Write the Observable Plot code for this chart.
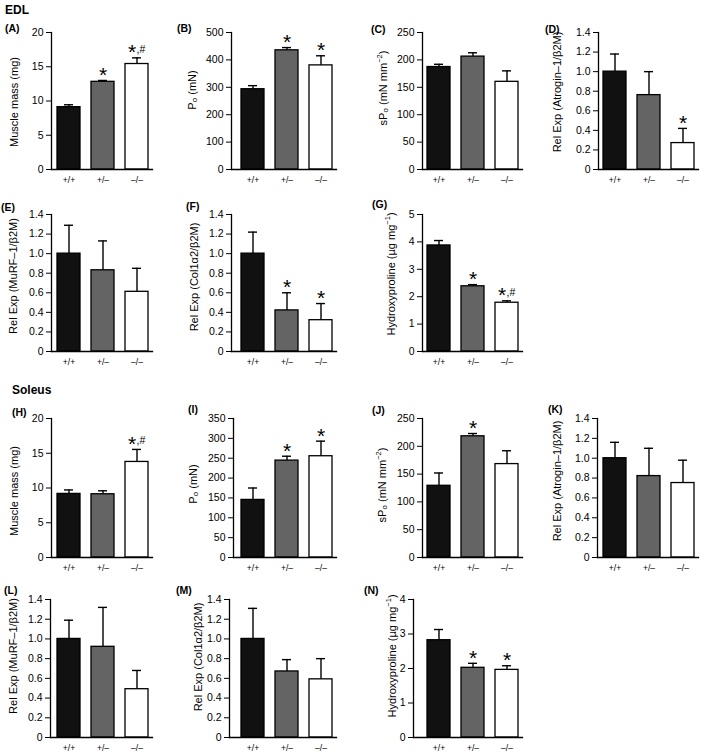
<!DOCTYPE html>
<html><head><meta charset="utf-8">
<script src="https://cdn.jsdelivr.net/npm/d3@7"></script>
<script src="https://cdn.jsdelivr.net/npm/@observablehq/plot@0.6"></script>
<style>
body{margin:0;background:#fff;}
#fig{position:relative;width:701px;height:754px;font-family:"Liberation Sans",Arial,sans-serif;color:#000;}
.let{position:absolute;font-weight:bold;font-size:10.5px;line-height:1;}
.sec{position:absolute;font-weight:bold;font-size:12px;line-height:1;}
</style></head><body><div id="fig"></div>
<script>
// ---- data ----
const genotypes = ["+/+", "+/–", "–/–"];
const barFills = ["#111111", "#646464", "#ffffff"];

// EDL
const edlMass = [9.1, 12.8, 15.4];
const edlMassSem = [0.35, 0.2, 0.9];
const edlMassSig = ["", "*", "*,#"];
const edlPo = [293, 435, 380];
const edlPoSem = [13, 10, 35];
const edlPoSig = ["", "*", "*"];
const edlSPo = [187, 206, 160];
const edlSPoSem = [5, 7, 20];
const edlSPoSig = ["", "", ""];
const edlAtrogin = [1.0, 0.76, 0.27];
const edlAtroginSem = [0.18, 0.24, 0.15];
const edlAtroginSig = ["", "", "*"];
const edlMurf = [1.0, 0.83, 0.61];
const edlMurfSem = [0.29, 0.30, 0.24];
const edlMurfSig = ["", "", ""];
const edlCol = [1.0, 0.42, 0.32];
const edlColSem = [0.22, 0.18, 0.17];
const edlColSig = ["", "*", "*"];
const edlHyp = [3.87, 2.38, 1.78];
const edlHypSem = [0.18, 0.06, 0.07];
const edlHypSig = ["", "*", "*,#"];

// Soleus
const solMass = [9.15, 9.1, 13.75];
const solMassSem = [0.57, 0.5, 1.8];
const solMassSig = ["", "", "*,#"];
const solPo = [145, 244, 255];
const solPoSem = [30, 11, 38];
const solPoSig = ["", "*", "*"];
const solSPo = [129, 218, 168];
const solSPoSem = [23, 5, 24];
const solSPoSig = ["", "*", ""];
const solAtrogin = [1.0, 0.82, 0.75];
const solAtroginSem = [0.16, 0.28, 0.23];
const solAtroginSig = ["", "", ""];
const solMurf = [1.0, 0.92, 0.49];
const solMurfSem = [0.19, 0.40, 0.19];
const solMurfSig = ["", "", ""];
const solCol = [1.0, 0.67, 0.59];
const solColSem = [0.31, 0.12, 0.21];
const solColSig = ["", "", ""];
const solHyp = [2.82, 2.02, 1.96];
const solHypSem = [0.31, 0.13, 0.12];
const solHypSig = ["", "*", "*"];

// tick sets
const ticksMass = [0, 5, 10, 15, 20];
const ticksPoEDL = [0, 100, 200, 300, 400, 500];
const ticksSPo = [0, 50, 100, 150, 200, 250];
const ticksRel = [0, 0.2, 0.4, 0.6, 0.8, 1.0, 1.2, 1.4];
const ticksHypEDL = [0, 1, 2, 3, 4, 5];
const ticksPoSol = [0, 50, 100, 150, 200, 250, 300, 350];
const ticksHypSol = [0, 1, 2, 3, 4];

// labels (segments: text, kind)
const lblMass = [["Muscle mass (mg)"]];
const lblPo = [["P"], ["o", "sub"], [" (mN)"]];
const lblSPo = [["sP"], ["o", "sub"], [" (mN mm"], ["−2", "sup"], [")"]];
const lblAtrogin = [["Rel Exp (Atrogin–1/β2M)"]];
const lblMurf = [["Rel Exp (MuRF–1/β2M)"]];
const lblCol = [["Rel Exp (Col1α2/β2M)"]];
const lblHyp = [["Hydroxyproline (µg mg"], ["−1", "sup"], [")"]];

// ---- layout ----
const rowY = [[32, 169], [214, 351], [418, 557], [599, 737]];
const colBars = [[56, 148], [240, 332], [427, 518], [603, 694]];

const panels = [
  {id:"(A)", v:edlMass, e:edlMassSem, s:edlMassSig, ticks:ticksMass, lbl:lblMass, row:0, col:0, ax:51, lx:14, ly:102, tx:5, ty:23},
  {id:"(B)", v:edlPo, e:edlPoSem, s:edlPoSig, ticks:ticksPoEDL, lbl:lblPo, row:0, col:1, ax:231, lx:192, ly:90, tx:177, ty:23},
  {id:"(C)", v:edlSPo, e:edlSPoSem, s:edlSPoSig, ticks:ticksSPo, lbl:lblSPo, row:0, col:2, ax:422, lx:383, ly:88, tx:371, ty:24},
  {id:"(D)", v:edlAtrogin, e:edlAtroginSem, s:edlAtroginSig, ticks:ticksRel, lbl:lblAtrogin, row:0, col:3, ax:598, lx:557, ly:92, tx:545, ty:24},
  {id:"(E)", v:edlMurf, e:edlMurfSem, s:edlMurfSig, ticks:ticksRel, lbl:lblMurf, row:1, col:0, ax:51, lx:12.5, ly:276, tx:1, ty:202},
  {id:"(F)", v:edlCol, e:edlColSem, s:edlColSig, ticks:ticksRel, lbl:lblCol, row:1, col:1, ax:231, lx:194, ly:277, tx:186, ty:201},
  {id:"(G)", v:edlHyp, e:edlHypSem, s:edlHypSig, ticks:ticksHypEDL, lbl:lblHyp, row:1, col:2, ax:422, lx:391, ly:274, tx:372, ty:199},
  {id:"(H)", v:solMass, e:solMassSem, s:solMassSig, ticks:ticksMass, lbl:lblMass, row:2, col:0, ax:51, lx:14, ly:491, tx:12, ty:407},
  {id:"(I)", v:solPo, e:solPoSem, s:solPoSig, ticks:ticksPoSol, lbl:lblPo, row:2, col:1, ax:233, lx:192.5, ly:484, tx:188, ty:404},
  {id:"(J)", v:solSPo, e:solSPoSem, s:solSPoSig, ticks:ticksSPo, lbl:lblSPo, row:2, col:2, ax:422, lx:382, ly:485, tx:372, ty:405},
  {id:"(K)", v:solAtrogin, e:solAtroginSem, s:solAtroginSig, ticks:ticksRel, lbl:lblAtrogin, row:2, col:3, ax:597, lx:557, ly:481, tx:548, ty:404},
  {id:"(L)", v:solMurf, e:solMurfSem, s:solMurfSig, ticks:ticksRel, lbl:lblMurf, row:3, col:0, ax:50, lx:12.5, ly:656, tx:4, ty:585},
  {id:"(M)", v:solCol, e:solColSem, s:solColSig, ticks:ticksRel, lbl:lblCol, row:3, col:1, ax:229, lx:197.5, ly:657, tx:176, ty:585},
  {id:"(N)", v:solHyp, e:solHypSem, s:solHypSig, ticks:ticksHypSol, lbl:lblHyp, row:3, col:2, ax:413, lx:392, ly:656, tx:364, ty:585}
];

const fig = document.getElementById("fig");
const FONT = '"Liberation Sans", Arial, sans-serif';

function addDiv(cls, text, x, y) {
  const d = document.createElement("div");
  d.className = cls; d.textContent = text;
  d.style.left = x + "px"; d.style.top = y + "px";
  fig.appendChild(d);
}
addDiv("sec", "EDL", 5, 4);
addDiv("sec", "Soleus", 12, 384);

for (const p of panels) {
  const [top, bottom] = rowY[p.row];
  const [b0, b1] = colBars[p.col];
  const ml = 48, mr = 4, mt = 14, mb = 18;
  const svgLeft = p.ax - ml;
  const svgTop = top - mt;
  const width = (b1 + 4) + mr - svgLeft;
  const height = bottom - top + mt + mb;
  const ymax = p.ticks[p.ticks.length - 1];
  const fmt = ymax < 2 ? (d => d === 0 ? "0" : d.toFixed(1)) : (d => String(d));
  const rows = genotypes.map((g, i) => ({
    g, v: p.v[i], top: p.v[i] + p.e[i],
    star: p.s[i].includes("*"), hash: p.s[i].includes("#")
  }));
  const plot = Plot.plot({
    width, height, marginLeft: ml, marginRight: mr, marginTop: mt, marginBottom: mb,
    style: {fontFamily: FONT, background: "transparent", overflow: "visible"},
    x: {type: "band", domain: genotypes, range: [b0 - svgLeft, b1 - svgLeft], paddingInner: 0.33, paddingOuter: 0},
    y: {domain: [0, ymax]},
    color: {domain: genotypes, range: barFills},
    marks: [
      Plot.ruleX(rows, {x: "g", y1: "v", y2: "top", stroke: "#000", strokeWidth: 1.4}),
      Plot.tickY(rows, {x: "g", y: "top", insetLeft: 7, insetRight: 7, stroke: "#000", strokeWidth: 1.4}),
      Plot.barY(rows, {x: "g", y: "v", fill: "g", stroke: "#000", strokeWidth: 1.3}),
      Plot.text(rows.filter(d => d.star && !d.hash), {x: "g", y: "top", text: () => "*", fontSize: 21, lineAnchor: "bottom", dy: 1.5}),
      Plot.text(rows.filter(d => d.star && d.hash), {x: "g", y: "top", text: () => "*", fontSize: 21, lineAnchor: "bottom", dy: 1.5, dx: -5}),
      Plot.text(rows.filter(d => d.hash), {x: "g", y: "top", text: () => ",#", fontSize: 10.5, textAnchor: "start", lineAnchor: "bottom", dy: -5, dx: -0.5}),
      Plot.axisY({ticks: p.ticks, tickFormat: fmt, tickSize: 5, tickPadding: 3, fontSize: 10.5, label: null}),
      Plot.axisX({tickSize: 0, tickPadding: 7, fontSize: 8.5, label: null}),
      Plot.frame({anchor: "left", strokeWidth: 1.3}),
      Plot.frame({anchor: "bottom", strokeWidth: 1.3})
    ]
  });
  plot.style.position = "absolute";
  plot.style.left = svgLeft + "px";
  plot.style.top = svgTop + "px";
  const t = d3.select(plot).append("text")
    .attr("transform", `translate(${p.lx - svgLeft},${p.ly - svgTop}) rotate(-90)`)
    .attr("text-anchor", "middle")
    .attr("dominant-baseline", "central")
    .attr("font-size", 11)
    .attr("font-family", FONT)
    .attr("fill", "#000");
  for (const [txt, kind] of p.lbl) {
    const ts = t.append("tspan").text(txt);
    if (kind === "sub") ts.attr("baseline-shift", "-25%").attr("font-size", 8);
    if (kind === "sup") ts.attr("baseline-shift", "45%").attr("font-size", 7.5);
  }
  fig.appendChild(plot);
  addDiv("let", p.id, p.tx, p.ty);
}
</script></body></html>
